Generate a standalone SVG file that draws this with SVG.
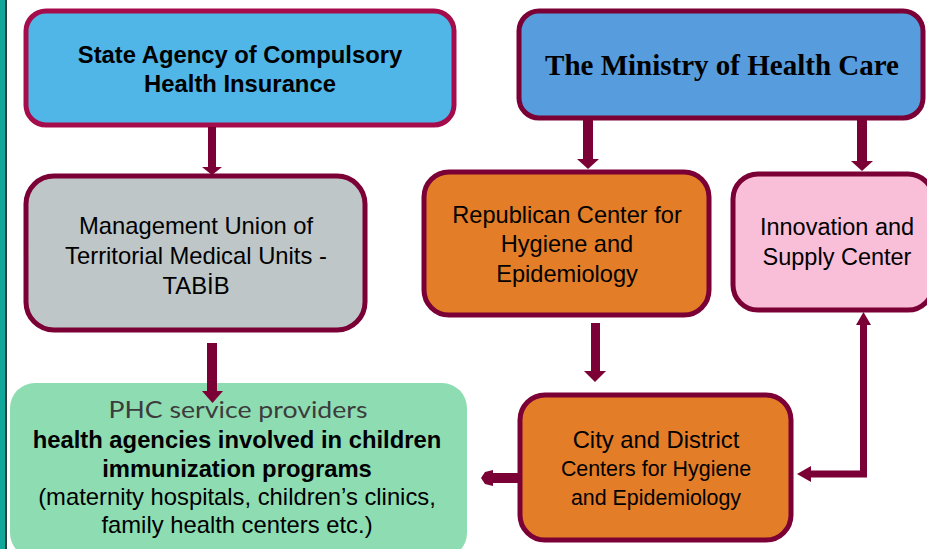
<svg xmlns="http://www.w3.org/2000/svg" width="927" height="549" viewBox="0 0 927 549">
  <style>
    .box { stroke: #7B0035; stroke-width: 5; }
    .sans { font-family: "Liberation Sans", Arial, sans-serif; fill: #000; text-anchor: middle; }
    .bold { font-weight: bold; }
    .link { fill: #7B0035; stroke: none; }
  </style>

  <rect x="0" y="0" width="927" height="549" fill="#ffffff"/>
  <!-- left page edge -->
  <rect x="0" y="0" width="5" height="549" fill="#12A79B"/>
  <rect x="5" y="0" width="2" height="549" fill="#2F3E3E"/>

  <!-- State Agency of Compulsory Health Insurance -->
  <g id="agency">
    <rect x="26" y="11" width="428" height="114" rx="20" fill="#4FB6E7" stroke="#A50C4B" stroke-width="5"/>
    <text class="sans bold" x="240" y="63" font-size="23.8">State Agency of Compulsory</text>
    <text class="sans bold" x="240" y="92" font-size="23.8">Health Insurance</text>
  </g>

  <!-- Ministry of Health Care -->
  <g id="ministry">
    <rect class="box" x="519" y="11" width="404" height="107" rx="20" fill="#579CDC"/>
    <text x="722" y="75" font-family="'Liberation Serif', 'Times New Roman', serif" font-weight="bold" font-size="29" text-anchor="middle" fill="#000">The Ministry of Health Care</text>
  </g>

  <!-- TABIB -->
  <g id="tabib">
    <rect class="box" x="26" y="176" width="339" height="154" rx="28" fill="#BFC6C7"/>
    <text class="sans" x="196" y="234" font-size="23.8">Management Union of</text>
    <text class="sans" x="196" y="264" font-size="23.8">Territorial Medical Units -</text>
    <text class="sans" x="196" y="294" font-size="23.8">TABİB</text>
  </g>

  <!-- Republican Center for Hygiene and Epidemiology -->
  <g id="republican">
    <rect class="box" x="424" y="172" width="285" height="143" rx="25" fill="#E47D28"/>
    <text class="sans" x="567" y="223" font-size="23.6">Republican Center for</text>
    <text class="sans" x="567" y="252" font-size="23.6">Hygiene and</text>
    <text class="sans" x="567" y="282" font-size="23.6">Epidemiology</text>
  </g>

  <!-- Innovation and Supply Center -->
  <g id="innovation">
    <rect class="box" x="733" y="174" width="200" height="136" rx="25" fill="#F9BFD8"/>
    <text class="sans" x="837" y="235" font-size="23.5">Innovation and</text>
    <text class="sans" x="837" y="265" font-size="23.5">Supply Center</text>
  </g>

  <!-- PHC service providers -->
  <g id="phc">
    <rect x="10" y="383" width="457" height="175" rx="25" fill="#8EDCB2"/>
    <text x="238" y="418" font-family="Lato, 'Open Sans', sans-serif" font-size="24" text-anchor="middle" fill="#3C3C3C" textLength="259" lengthAdjust="spacingAndGlyphs">PHC service providers</text>
    <text class="sans bold" x="237" y="448" font-size="23.8">health agencies involved in children</text>
    <text class="sans bold" x="237" y="477" font-size="23.8">immunization programs</text>
    <text class="sans" x="237" y="505" font-size="23.8">(maternity hospitals, children’s clinics,</text>
    <text class="sans" x="237" y="533" font-size="23.8">family health centers etc.)</text>
  </g>

  <!-- City and District Centers for Hygiene and Epidemiology -->
  <g id="city">
    <rect class="box" x="520" y="395" width="271" height="145" rx="25" fill="#E47D28"/>
    <text class="sans" x="656" y="448" font-size="23.8">City and District</text>
    <text class="sans" x="656" y="476" font-size="21.4">Centers for Hygiene</text>
    <text class="sans" x="656" y="505" font-size="21.4">and Epidemiology</text>
  </g>

  <!-- connectors -->
  <g id="connectors">
    <!-- agency to TABIB -->
    <rect class="link" x="208" y="127" width="8" height="41"/>
    <path class="link" d="M202,167 L222,167 L212,175 z"/>
    <!-- TABIB to PHC providers -->
    <rect class="link" x="207" y="343" width="10" height="50"/>
    <path class="link" d="M202,391 L223,391 L212.5,403 z"/>
    <!-- ministry to republican center -->
    <rect class="link" x="583" y="120" width="10" height="40"/>
    <path class="link" d="M577,159 L599,159 L588,169 z"/>
    <!-- ministry to innovation center -->
    <rect class="link" x="857" y="120" width="10" height="42"/>
    <path class="link" d="M851,161 L873,161 L862,171 z"/>
    <!-- republican center to city centers -->
    <rect class="link" x="591" y="323" width="9" height="50"/>
    <path class="link" d="M584,371 L606,371 L595,382 z"/>
    <!-- innovation center <-> city centers -->
    <path d="M863.5,322 L863.5,474 L808,474" fill="none" stroke="#7B0035" stroke-width="7"/>
    <path class="link" d="M856,325 L871,325 L863.5,312 z"/>
    <path class="link" d="M811,466 L811,482 L797,474 z"/>
    <!-- city centers to PHC providers -->
    <rect class="link" x="490" y="473" width="28" height="10"/>
    <path class="link" d="M493,470 L493,486 L485,484 L481,478 L485,472 z" stroke="#7B0035" stroke-width="2" stroke-linejoin="round"/>
  </g>
</svg>
